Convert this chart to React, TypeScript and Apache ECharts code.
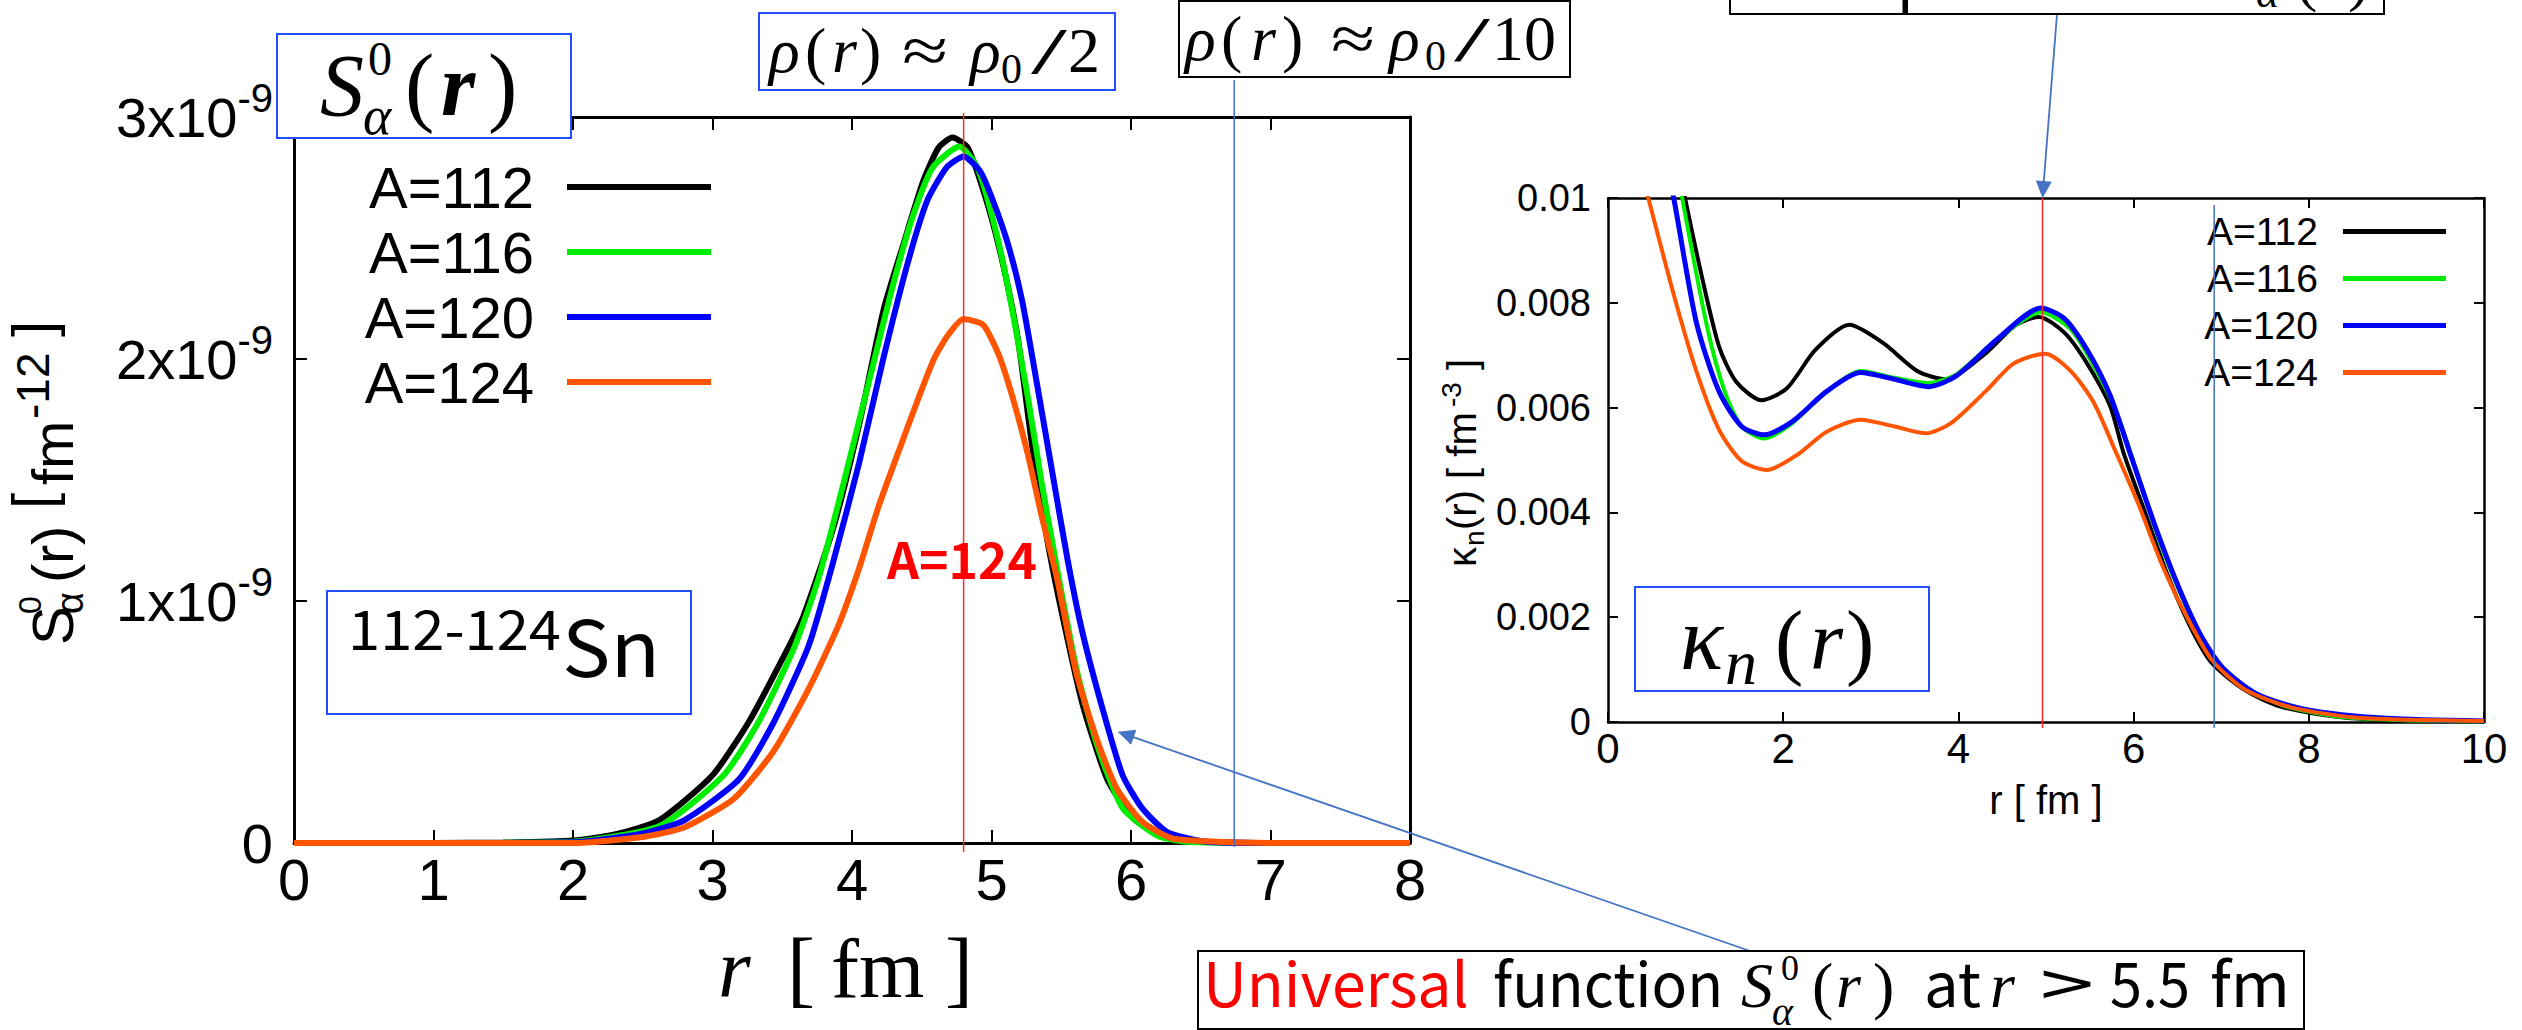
import React, { useEffect, useRef } from 'react';
import * as echarts from 'echarts';

const W = 2522;
const H = 1030;

const NAMES = ['A=112', 'A=116', 'A=120', 'A=124'];
const COLORS = ['#000000', '#00ee00', '#0000ff', '#ff5500'];

// Left panel: S_alpha^0(r) in units of 1e-9 fm^-12, r in fm
const S112 = [[0,0],[0.5,0],[1,0],[1.5,0.002],[2,0.01],[2.3,0.035],[2.62,0.095],[3,0.28],[3.26,0.5],[3.48,0.737],[3.65,0.935],[3.87,1.31],[4.05,1.726],[4.225,2.2],[4.37,2.477],[4.51,2.734],[4.62,2.873],[4.72,2.915],[4.83,2.873],[4.974,2.635],[5.08,2.398],[5.19,2.08],[5.29,1.647],[5.4,1.251],[5.51,0.935],[5.65,0.579],[5.83,0.263],[6.01,0.105],[6.19,0.035],[6.37,0.01],[6.7,0.002],[7,0],[8,0]];
const S116 = [[0,0],[0.5,0],[1,0],[1.5,0.001],[2,0.005],[2.62,0.07],[3.08,0.28],[3.33,0.5],[3.58,0.8],[3.76,1.093],[3.94,1.488],[4.12,1.904],[4.3,2.319],[4.44,2.596],[4.58,2.793],[4.77,2.878],[4.9,2.79],[5.045,2.497],[5.15,2.2],[5.26,1.844],[5.36,1.488],[5.47,1.133],[5.61,0.717],[5.76,0.401],[5.94,0.144],[6.19,0.03],[6.4,0.005],[7,0],[8,0]];
const S120 = [[0,0],[0.5,0],[1,0],[2,0.003],[2.5,0.04],[2.8,0.095],[3.19,0.263],[3.44,0.5],[3.69,0.816],[3.87,1.172],[4.05,1.568],[4.225,2.003],[4.4,2.398],[4.54,2.655],[4.68,2.793],[4.8,2.837],[4.92,2.774],[5.01,2.655],[5.117,2.477],[5.22,2.24],[5.33,1.884],[5.437,1.528],[5.545,1.172],[5.65,0.875],[5.794,0.559],[5.94,0.28],[6.08,0.144],[6.26,0.045],[6.54,0.005],[7,0],[8,0]];
const S124 = [[0,0],[0.5,0],[1,0],[2,0],[2.5,0.025],[2.8,0.065],[3.155,0.184],[3.44,0.381],[3.69,0.638],[3.9,0.895],[4.05,1.133],[4.19,1.39],[4.34,1.627],[4.48,1.844],[4.59,2.003],[4.69,2.1],[4.8,2.165],[4.94,2.141],[5.05,2.02],[5.15,1.844],[5.26,1.607],[5.36,1.35],[5.47,1.093],[5.61,0.698],[5.76,0.42],[5.9,0.223],[6.08,0.088],[6.29,0.02],[6.54,0.007],[7,0],[8,0]];

// Right panel: kappa_n(r) in units of 1e-3 fm^-3
const K112 = [[0.6,12.3],[0.879,10],[1.073,8.49],[1.267,7.17],[1.461,6.5],[1.752,6.14],[2.043,6.37],[2.367,7.1],[2.754,7.58],[3.143,7.23],[3.53,6.7],[3.854,6.54],[4.307,7.03],[4.65,7.57],[4.92,7.73],[5.21,7.43],[5.47,6.84],[5.73,6.04],[5.89,5.11],[6.12,4.05],[6.376,2.86],[6.635,1.86],[6.89,1.13],[7.28,0.6],[7.67,0.3],[8.32,0.1],[8.89,0.04],[10,0.01]];
const K116 = [[0.6,12.4],[0.847,10],[1.137,7.5],[1.332,6.31],[1.526,5.64],[1.784,5.41],[2.108,5.71],[2.496,6.31],[2.884,6.7],[3.27,6.57],[3.66,6.47],[3.98,6.64],[4.44,7.3],[4.94,7.82],[5.28,7.5],[5.53,6.84],[5.79,5.97],[6.05,4.71],[6.31,3.39],[6.57,2.32],[6.89,1.26],[7.28,0.67],[7.7,0.32],[8.3,0.11],[9,0.04],[10,0.01]];
const K120 = [[0.5,12.0],[0.75,10],[1.008,7.63],[1.267,6.31],[1.526,5.64],[1.784,5.48],[2.108,5.74],[2.496,6.31],[2.884,6.67],[3.27,6.54],[3.66,6.4],[3.98,6.61],[4.44,7.3],[4.94,7.9],[5.21,7.7],[5.47,7.1],[5.73,6.24],[5.99,4.98],[6.25,3.72],[6.51,2.59],[6.765,1.66],[7.02,1.03],[7.41,0.53],[7.99,0.23],[8.89,0.07],[10,0.02]];
const K124 = [[0.3,11.0],[0.46,10],[0.75,8.16],[1.008,6.7],[1.267,5.58],[1.526,4.98],[1.817,4.81],[2.17,5.11],[2.496,5.54],[2.884,5.77],[3.27,5.64],[3.63,5.51],[3.92,5.71],[4.31,6.31],[4.63,6.84],[4.99,7.03],[5.28,6.7],[5.54,6.11],[5.79,5.18],[6.05,4.18],[6.31,3.06],[6.57,2.13],[6.89,1.19],[7.28,0.61],[7.8,0.28],[8.57,0.08],[10,0.02]];

const LEFT_DATA = [S112, S116, S120, S124];
const RIGHT_DATA = [K112, K116, K120, K124];

// marker radii (fm)
const LEFT_HALF_R = 4.8;     // rho ~ rho0/2
const LEFT_TENTH_R = 6.74;   // rho ~ rho0/10
const RIGHT_HALF_R = 4.96;
const RIGHT_TENTH_R = 6.92;
const ARROW_POINT = [5.89, 0.46]; // point on left curves the lower arrow targets

const SERIF = "'Liberation Serif', 'DejaVu Serif', serif";
const SANS = "'Liberation Sans', Arial, sans-serif";
const JP = "'Noto Sans CJK JP', 'Noto Sans', sans-serif";
const BOXBLUE = '#1f4fff';
const LINEBLUE = '#4472c4';

type Tok = { t: string; x?: number; y?: number; size: number; fam?: string; it?: boolean; b?: boolean; c?: string; dy?: number; w?: number; lh?: number; align?: string };

let _ctx: CanvasRenderingContext2D | null = null;
function ctx() {
  if (!_ctx) _ctx = document.createElement('canvas').getContext('2d');
  return _ctx!;
}
function fontOf(k: Tok) {
  return `${k.it ? 'italic ' : ''}${k.b ? 'bold ' : ''}${k.size}px ${k.fam || SANS}`;
}
function metrics(k: Tok) {
  const c = ctx();
  c.font = fontOf(k);
  const m = c.measureText(k.t);
  const asc = (m as any).fontBoundingBoxAscent ?? k.size * 0.9;
  const desc = (m as any).fontBoundingBoxDescent ?? k.size * 0.22;
  return { w: m.width, off: (asc - desc) / 2 };
}
function textEl(k: Tok, z = 60) {
  const m = metrics(k);
  const el: any = {
    type: 'text',
    x: k.x,
    y: (k.y as number) + (k.dy || 0) - m.off,
    z,
    silent: true,
    style: {
      text: k.t,
      fill: k.c || '#000',
      fontSize: k.size,
      fontFamily: k.fam || SANS,
      fontStyle: k.it ? 'italic' : 'normal',
      fontWeight: k.b ? 'bold' : 'normal',
      align: k.align || 'left',
      verticalAlign: 'middle',
      lineHeight: k.lh || Math.round(k.size * 0.95),
    },
  };
  if (k.w && m.w > 0) el.scaleX = k.w / m.w;
  return el;
}
function place(toks: Tok[], z = 60) {
  return toks.map((k) => textEl(k, z));
}
function box(x: number, y: number, w: number, h: number, stroke: string, z = 55, lw = 2) {
  return { type: 'rect', z, silent: true, shape: { x, y, width: w, height: h }, style: { fill: '#ffffff', stroke, lineWidth: lw } };
}
function vline(x: number, y1: number, y2: number, color: string, z = 40) {
  return { type: 'line', z, silent: true, shape: { x1: x, y1, x2: x, y2 }, style: { stroke: color, lineWidth: 1.5 } };
}
function arrow(sx: number, sy: number, tx: number, ty: number, color: string) {
  const dx = tx - sx, dy = ty - sy;
  const L = Math.hypot(dx, dy);
  const ux = dx / L, uy = dy / L;
  const nx = -uy, ny = ux;
  const hl = 17, hw = 8;
  const bx = tx - ux * hl, by = ty - uy * hl;
  return [
    { type: 'line', z: 70, silent: true, shape: { x1: sx, y1: sy, x2: bx + ux * 2, y2: by + uy * 2 }, style: { stroke: color, lineWidth: 1.8 } },
    { type: 'polygon', z: 70, silent: true, shape: { points: [[tx, ty], [bx + nx * hw, by + ny * hw], [bx - nx * hw, by - ny * hw]] }, style: { fill: color } },
  ];
}

function axisPair(gi: number, min: number, max: number, interval: number, isX: boolean, labelSize: number, margin: number, tickLen: number, lw: number, formatter: any, rich?: any) {
  const common = {
    gridIndex: gi,
    type: 'value',
    min,
    max,
    interval,
    splitLine: { show: false },
    axisLine: { show: true, onZero: false, lineStyle: { color: '#000', width: lw } },
    axisTick: { show: true, inside: true, length: tickLen, lineStyle: { color: '#000', width: 2 } },
  };
  return [
    {
      ...common,
      position: isX ? 'bottom' : 'left',
      axisLabel: { show: true, fontSize: labelSize, fontFamily: SANS, color: '#000', margin, formatter, rich },
    },
    { ...common, position: isX ? 'top' : 'right', axisLabel: { show: false } },
  ];
}

function buildOption() {
  const yLeftFmt = (v: number) => (v === 0 ? '{b|0}' : `{b|${v}x10}{s|-9}`);
  const yLeftRich = {
    b: { fontSize: 56, fontFamily: SANS, color: '#000' },
    s: { fontSize: 40, fontFamily: SANS, color: '#000', padding: [0, 0, 38, 0] },
  };
  const yRightFmt = (v: number) => (v === 0 ? '0' : String(+(v / 1000).toFixed(3)));
  const xFmt = (v: number) => String(v);

  const xAxis = [
    ...axisPair(0, 0, 8, 1, true, 58, 7, 13, 3, xFmt),
    ...axisPair(1, 0, 10, 2, true, 42, 5, 10, 2.5, xFmt),
  ];
  const yAxis = [
    ...axisPair(0, 0, 3, 1, false, 56, 21, 13, 3, yLeftFmt, yLeftRich),
    ...axisPair(1, 0, 10, 2, false, 38, 17, 10, 2.5, yRightFmt),
  ];

  const series: any[] = [];
  NAMES.forEach((n, i) => {
    series.push({
      type: 'line', name: n, data: LEFT_DATA[i], xAxisIndex: 0, yAxisIndex: 0,
      symbol: 'none', showSymbol: false, smooth: 0.2, clip: true, z: 3 + i,
      lineStyle: { color: COLORS[i], width: 6 }, itemStyle: { color: COLORS[i] },
    });
  });
  NAMES.forEach((n, i) => {
    series.push({
      type: 'line', name: n, data: RIGHT_DATA[i], xAxisIndex: 2, yAxisIndex: 2,
      symbol: 'none', showSymbol: false, smooth: 0.25, clip: true, z: 3 + i,
      lineStyle: { color: COLORS[i], width: i === 2 ? 5 : 4 }, itemStyle: { color: COLORS[i] },
    });
  });

  return {
    animation: false,
    backgroundColor: '#ffffff',
    grid: [
      { left: 294, top: 117, width: 1116, height: 726, containLabel: false },
      { left: 1608, top: 198, width: 876, height: 524, containLabel: false },
    ],
    xAxis,
    yAxis,
    legend: [
      {
        data: NAMES, orient: 'vertical', right: W - 711, top: 158, align: 'right', icon: 'rect',
        itemWidth: 144, itemHeight: 6, itemGap: 7, padding: 0, selectedMode: false,
        textStyle: { fontSize: 58, fontFamily: SANS, color: '#000', padding: [0, 28, 0, 0] },
      },
      {
        data: NAMES, orient: 'vertical', right: W - 2446, top: 212, align: 'right', icon: 'rect',
        itemWidth: 103, itemHeight: 5, itemGap: 8, padding: 0, selectedMode: false,
        textStyle: { fontSize: 39, fontFamily: SANS, color: '#000', padding: [0, 20, 0, 0] },
      },
    ],
    series,
  };
}

function buildGraphics(chart: any) {
  const pL = (pt: number[]) => chart.convertToPixel({ xAxisIndex: 0, yAxisIndex: 0 }, pt);
  const pR = (pt: number[]) => chart.convertToPixel({ xAxisIndex: 2, yAxisIndex: 2 }, pt);
  const g: any[] = [];

  // marker lines
  const lh = pL([LEFT_HALF_R, 0]);
  const lt = pL([LEFT_TENTH_R, 0]);
  const rh = pR([RIGHT_HALF_R, 0]);
  const rt = pR([RIGHT_TENTH_R, 0]);
  const rTop = pR([RIGHT_HALF_R, 10]);
  g.push(vline(lh[0], 113, lh[1] + 9, '#ff2a2a'));
  g.push(vline(lt[0], 80, lt[1] + 4, LINEBLUE));
  g.push(vline(rh[0], rTop[1], rh[1] + 6, '#ff2a2a'));
  g.push(vline(rt[0], rTop[1] + 7, rt[1] + 6, LINEBLUE));

  // arrows
  const tip2 = pL(ARROW_POINT);
  g.push(...arrow(2057, 14, rTop[0], rTop[1], LINEBLUE));
  g.push(...arrow(1750, 951, tip2[0] + 2, tip2[1], LINEBLUE));

  // S_alpha^0(r) box
  g.push(box(277, 34, 294, 104, BOXBLUE, 80));
  g.push(...place([
    { t: 'S', x: 320, y: 115, size: 88, fam: SERIF, it: true },
    { t: '0', x: 368, y: 75, size: 48, fam: SERIF, lh: 34 },
    { t: 'α', x: 363, y: 134, size: 54, fam: SERIF, it: true, lh: 38 },
    { t: '(', x: 405, y: 115, size: 88, fam: SERIF },
    { t: 'r', x: 441, y: 115, size: 88, fam: SERIF, it: true, b: true },
    { t: ')', x: 488, y: 115, size: 88, fam: SERIF },
  ], 81));

  // rho ~ rho0/2 box
  g.push(box(759, 13, 356, 77, BOXBLUE, 80));
  g.push(...place([
    { t: 'ρ', x: 769, y: 72, size: 64, fam: SERIF, it: true },
    { t: '(', x: 805, y: 72, size: 64, fam: SERIF },
    { t: 'r', x: 832, y: 72, size: 64, fam: SERIF, it: true },
    { t: ')', x: 860, y: 72, size: 64, fam: SERIF },
    { t: '≈', x: 902, y: 72, size: 64, fam: SERIF, w: 46 },
    { t: 'ρ', x: 970, y: 72, size: 64, fam: SERIF, it: true },
    { t: '0', x: 1001, y: 83, size: 42, fam: SERIF },
    { t: '/', x: 1031, y: 73, size: 66, fam: SERIF, w: 36 },
    { t: '2', x: 1068, y: 72, size: 64, fam: SERIF },
  ], 81));

  // rho ~ rho0/10 box
  g.push(box(1179, 1, 391, 76, '#000000', 80));
  g.push(...place([
    { t: 'ρ', x: 1185, y: 60, size: 64, fam: SERIF, it: true },
    { t: '(', x: 1221, y: 60, size: 64, fam: SERIF },
    { t: 'r', x: 1251, y: 60, size: 64, fam: SERIF, it: true },
    { t: ')', x: 1282, y: 60, size: 64, fam: SERIF },
    { t: '≈', x: 1331, y: 60, size: 64, fam: SERIF, w: 44 },
    { t: 'ρ', x: 1389, y: 60, size: 64, fam: SERIF, it: true },
    { t: '0', x: 1425, y: 70, size: 42, fam: SERIF },
    { t: '/', x: 1454, y: 61, size: 64, fam: SERIF, w: 36 },
    { t: '10', x: 1492, y: 60, size: 64, fam: SERIF },
  ], 81));

  // top-right box (mostly above the picture)
  g.push(box(1730, -70, 654, 84, '#000000', 80));
  g.push(...place([
    { t: 'Peak position of', x: 1748, y: -1, size: 60, fam: JP },
    { t: 'S', x: 2222, y: -1, size: 64, fam: SERIF, it: true },
    { t: 'α', x: 2256, y: 7, size: 44, fam: SERIF, it: true },
    { t: '(', x: 2296, y: -1, size: 64, fam: SERIF },
    { t: 'r', x: 2318, y: -1, size: 64, fam: SERIF, it: true },
    { t: ')', x: 2348, y: -1, size: 64, fam: SERIF },
  ], 81));

  // 112-124Sn box
  g.push(box(327, 591, 364, 123, BOXBLUE, 80));
  g.push(...place([
    { t: '112-124', x: 348, y: 650, size: 55, fam: JP, w: 213 },
    { t: 'Sn', x: 562, y: 677, size: 78, fam: JP, w: 98 },
  ], 81));

  // kappa_n(r) box
  g.push(box(1635, 587, 294, 104, BOXBLUE, 80));
  g.push(...place([
    { t: 'κ', x: 1680, y: 669, size: 90, fam: SERIF, it: true },
    { t: 'n', x: 1725, y: 684, size: 64, fam: SERIF, it: true },
    { t: '(', x: 1775, y: 669, size: 85, fam: SERIF },
    { t: 'r', x: 1810, y: 669, size: 85, fam: SERIF, it: true },
    { t: ')', x: 1846, y: 669, size: 85, fam: SERIF },
  ], 81));

  // A=124 label
  g.push(...place([{ t: 'A=124', x: 887, y: 579, size: 50, fam: JP, b: true, c: '#ff0000', w: 150 }], 81));

  // Universal box
  g.push(box(1198, 951, 1106, 78, '#000000', 80));
  g.push(...place([
    { t: 'Universal', x: 1203, y: 1007, size: 61, fam: JP, c: '#ff0000', w: 266 },
    { t: 'function', x: 1493, y: 1007, size: 61, fam: JP, w: 230 },
    { t: 'S', x: 1741, y: 1007, size: 64, fam: SERIF, it: true },
    { t: '0', x: 1781, y: 980, size: 36, fam: SERIF, lh: 25 },
    { t: 'α', x: 1772, y: 1025, size: 40, fam: SERIF, it: true, lh: 28 },
    { t: '(', x: 1812, y: 1007, size: 64, fam: SERIF },
    { t: 'r', x: 1836, y: 1007, size: 64, fam: SERIF, it: true },
    { t: ')', x: 1873, y: 1007, size: 64, fam: SERIF },
    { t: 'at', x: 1924, y: 1007, size: 61, fam: JP, w: 57 },
    { t: 'r', x: 1990, y: 1007, size: 64, fam: SERIF, it: true },
    { t: '>', x: 2040, y: 1007, size: 61, fam: JP, w: 54 },
    { t: '5.5', x: 2110, y: 1007, size: 61, fam: JP, w: 80 },
    { t: 'fm', x: 2210, y: 1007, size: 61, fam: JP, w: 80 },
  ], 81));

  // left x-axis name
  g.push(...place([
    { t: 'r', x: 718, y: 997, size: 84, fam: SERIF, it: true },
    { t: '[', x: 787, y: 997, size: 84, fam: SERIF },
    { t: 'fm', x: 831, y: 997, size: 84, fam: SERIF },
    { t: ']', x: 945, y: 997, size: 84, fam: SERIF },
  ]));

  // right x-axis name
  g.push(...place([{ t: 'r [ fm ]', x: 2046, y: 814, size: 40, fam: SANS, align: 'center' }]));

  // left y-axis name (rotated)
  const lyTok: Tok[] = [
    { t: 'S', x: 0, y: 0, size: 58 },
    { t: '0', x: 31, y: -32, size: 32, lh: 22 },
    { t: 'α', x: 31, y: 10, size: 38, lh: 26 },
    { t: '(', x: 62, y: 0, size: 58 },
    { t: 'r', x: 81, y: 0, size: 58 },
    { t: ')', x: 100, y: 0, size: 58 },
    { t: '[', x: 136, y: -20, size: 58 },
    { t: 'fm', x: 160, y: 0, size: 58 },
    { t: '-12', x: 226, y: -24, size: 46 },
    { t: ']', x: 308, y: -20, size: 58 },
  ];
  g.push({ type: 'group', x: 73, y: 645, rotation: Math.PI / 2, children: place(lyTok) });

  // right y-axis name (rotated)
  const ryTok: Tok[] = [
    { t: 'κ', x: 0, y: 0, size: 40 },
    { t: 'n', x: 21, y: 8, size: 28 },
    { t: '(r) [ fm', x: 37, y: 0, size: 40 },
    { t: '-3', x: 160, y: -15, size: 28 },
    { t: ' ]', x: 186, y: 0, size: 40 },
  ];
  g.push({ type: 'group', x: 1476, y: 567, rotation: Math.PI / 2, children: place(ryTok) });

  return g;
}

export default function App() {
  const ref = useRef<HTMLDivElement>(null);
  useEffect(() => {
    if (!ref.current) return;
    const chart = echarts.init(ref.current, undefined, { renderer: 'svg', width: W, height: H });
    chart.setOption(buildOption() as any);
    chart.setOption({ graphic: { elements: buildGraphics(chart) } } as any);
    return () => chart.dispose();
  }, []);
  return (
    <div
      ref={ref}
      style={{ position: 'absolute', left: 0, top: 0, width: W, height: H, background: '#fff' }}
    />
  );
}
